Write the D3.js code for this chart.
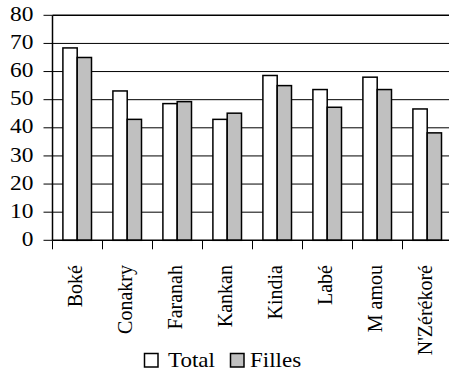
<!DOCTYPE html>
<html><head><meta charset="utf-8">
<script src="https://cdn.jsdelivr.net/npm/d3@7"></script>
<style>
html,body{margin:0;padding:0;background:#fff;overflow:hidden}
svg{display:block}
#chart text{font-family:"Liberation Serif",serif !important}
</style></head>
<body>
<svg id="chart" width="449" height="381"></svg>
<script>
const categories = ["Boké","Conakry","Faranah","Kankan","Kindia","Labé","M amou","N'Zérékoré"];
const series = ["Total","Filles"];
const totalValues = [68.4, 53.1, 48.6, 43.0, 58.6, 53.6, 58.0, 46.7];
const fillesValues = [65.0, 43.0, 49.3, 45.2, 55.0, 47.3, 53.6, 38.2];
const yTicks = [0,10,20,30,40,50,60,70,80];
const colors = {Total:"#ffffff", Filles:"#c0c0c0"};

(function(){
const FONT = "Liberation Serif";
const svg = d3.select("#chart");
const mLeft = 52.5, mRight = 452.5, mTop = 15.3, mBottom = 240.3;

const x = d3.scaleBand().domain(categories).range([mLeft, mRight]).paddingInner(0).paddingOuter(0);
const x1 = d3.scaleBand().domain(series).range([10.4, 39]).padding(0);
const y = d3.scaleLinear().domain([0, 80]).range([mBottom, mTop]);

function serif(sel) {
  sel.attr("font-family", FONT).attr("font-size", 20).attr("fill", "#000")
    .each(function() {
      this.style.setProperty("font-family", "'Liberation Serif', serif", "important");
      this.style.setProperty("font-size", "20px", "important");
    });
}

// gridlines
svg.append("g").selectAll("line").data(yTicks.filter(t => t > 0)).join("line")
  .attr("x1", mLeft).attr("x2", mRight)
  .attr("y1", d => y(d)).attr("y2", d => y(d))
  .attr("stroke", "#000").attr("stroke-width", d => d === 80 ? 1.6 : 1);

// bars
const data = categories.map((c, i) => ({cat: c, Total: totalValues[i], Filles: fillesValues[i]}));
const g = svg.append("g");
data.forEach(d => {
  series.forEach(s => {
    g.append("rect")
      .attr("x", x(d.cat) + x1(s))
      .attr("y", y(d[s]))
      .attr("width", x1.bandwidth())
      .attr("height", y(0) - y(d[s]))
      .attr("fill", colors[s])
      .attr("stroke", "#000").attr("stroke-width", 1.5);
  });
});

// y axis ticks and line
svg.append("g").selectAll("line").data(yTicks).join("line")
  .attr("x1", mLeft - 9).attr("x2", mLeft)
  .attr("y1", d => y(d)).attr("y2", d => y(d))
  .attr("stroke", "#000").attr("stroke-width", 1);
svg.append("line").attr("x1", mLeft).attr("x2", mLeft).attr("y1", mTop).attr("y2", mBottom)
  .attr("stroke", "#000").attr("stroke-width", 1.5);
svg.append("g").selectAll("text").data(yTicks).join("text")
  .attr("transform", d => `translate(33.5,${y(d) - 1}) scale(1.17,1)`)
  .attr("text-anchor", "end").attr("dy", "0.33em")
  .call(serif)
  .text(d => d);

// x axis
svg.append("line").attr("x1", mLeft).attr("x2", mRight).attr("y1", mBottom).attr("y2", mBottom)
  .attr("stroke", "#000").attr("stroke-width", 1.5);
svg.append("g").selectAll("line").data(categories).join("line")
  .attr("x1", d => x(d)).attr("x2", d => x(d))
  .attr("y1", mBottom).attr("y2", mBottom + 9)
  .attr("stroke", "#000").attr("stroke-width", 1);

svg.append("g").selectAll("text").data(categories).join("text")
  .attr("transform", d => `translate(${x(d) + x.bandwidth() / 2 + 4.5},265) rotate(-90)`)
  .attr("text-anchor", "end")
  .call(serif)
  .text(d => d);

// legend
const legend = svg.append("g");
const legendItems = [{s: "Total", bx: 144.5, tx: 168}, {s: "Filles", bx: 230.5, tx: 250}];
legendItems.forEach(it => {
  legend.append("rect").attr("x", it.bx).attr("y", 353.5).attr("width", 13.5).attr("height", 13.5)
    .attr("fill", colors[it.s]).attr("stroke", "#000").attr("stroke-width", 1.5);
  legend.append("text").attr("transform", `translate(${it.tx},366.5) scale(1.15,1)`)
    .call(serif).text(it.s);
});
})();
</script>
</body></html>
